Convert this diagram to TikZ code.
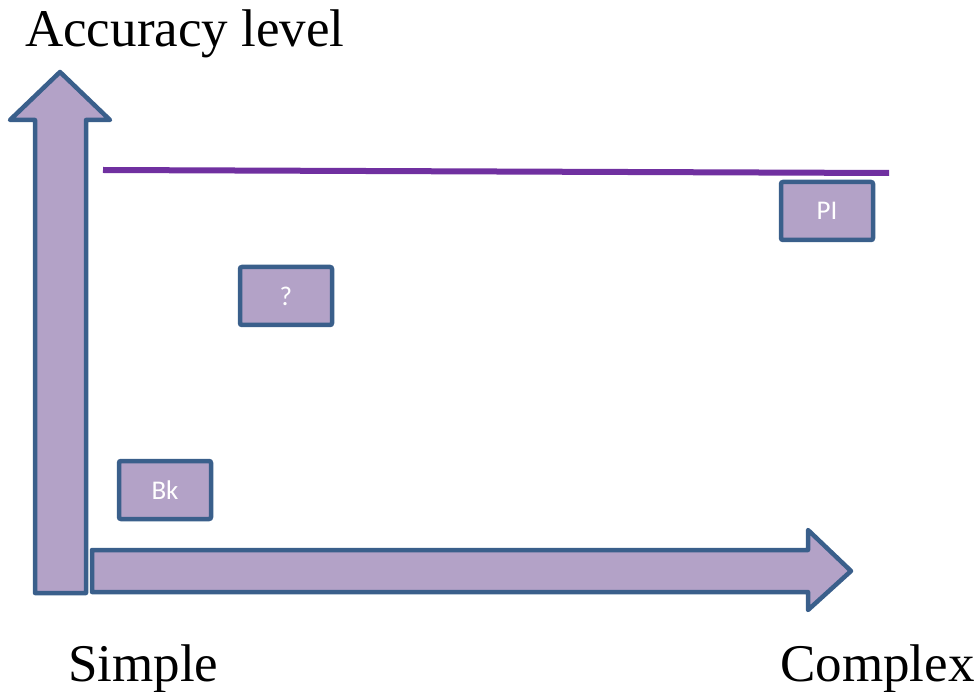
\documentclass[tikz,border=0pt]{standalone}
\usepackage{fontspec}
\setmainfont{Liberation Serif}
\newfontfamily\boxfont{Carlito}
\definecolor{lavender}{HTML}{B3A2C7}
\definecolor{edgeblue}{HTML}{3A5F8B}
\definecolor{levelpurple}{HTML}{7030A0}
\begin{document}
\begin{tikzpicture}[x=1pt, y=-1pt,
  blockarrow/.style={draw=edgeblue, fill=lavender, line width=4.5pt, line join=round},
  methodbox/.style={draw=edgeblue, fill=lavender, line width=4.5pt, rounded corners=2pt,
    minimum width=92pt, minimum height=58pt, text=white, font=\boxfont\fontsize{27}{31}\selectfont},
  axislabel/.style={anchor=base west, inner sep=0pt, font=\fontsize{53}{60}\selectfont}]
\useasboundingbox (0,0) rectangle (977,692);
% axes
\draw[blockarrow] (35,593) -- (35,120) -- (10,120) -- (60,72) -- (110,120) -- (86,120) -- (86,593) -- cycle;
\draw[blockarrow] (92,550) -- (808,550) -- (808,530) -- (851,571) -- (808,610) -- (808,592) -- (92,592) -- cycle;
% top accuracy level
\coordinate (lvlstart) at (103,170);
\coordinate (lvlend) at (889,173);
\draw[levelpurple, line width=6pt] (lvlstart) -- (lvlend);
% methods
\node[methodbox] (bk) at (165,490) {Bk};
\node[methodbox] (q) at (286,296) {?};
\node[methodbox] (pi) at (827,211) {PI};
% labels
\node[axislabel] (acc) at (25,47) {Accuracy level};
\node[axislabel] (simple) at (68,681) {Simple};
\node[axislabel] (complex) at (780,681) {Complex};
\end{tikzpicture}
\end{document}
